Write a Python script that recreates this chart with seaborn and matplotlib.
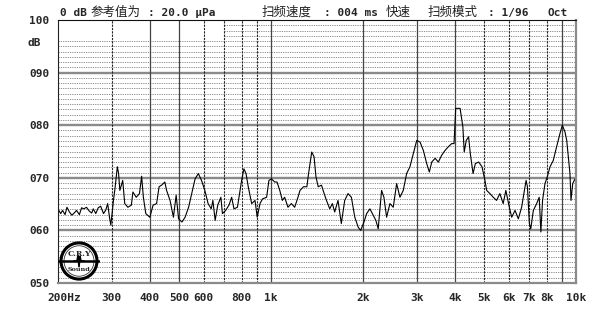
import numpy as np
import pandas as pd
import matplotlib
matplotlib.use("Agg")
import matplotlib.pyplot as plt
import matplotlib.transforms as mtrans
from matplotlib.patches import Ellipse
import seaborn as sns

# ---- data (1/96 octave sweep) ----
freq_hz = [200, 204, 207, 211, 214, 218, 222, 226, 230, 235, 239, 243, 248, 253, 258, 261,
           266, 271, 276, 282, 287, 291, 295, 298,
           304, 308, 313, 316, 319, 326, 331, 339, 348, 352, 361, 370, 376, 381, 388, 400,
           410, 421, 429, 437, 448, 454, 466, 478, 488, 497, 510, 522, 536, 549, 563, 577,
           591, 606, 621, 636, 644, 655, 668, 684, 692, 709, 727, 742, 755, 775, 800, 814,
           827, 841, 863, 885, 900, 919, 937, 966, 983, 1002, 1027, 1045, 1067, 1088, 1107,
           1135, 1164, 1194, 1224,
           1243, 1276, 1309, 1326, 1358, 1382, 1402, 1426, 1462, 1480, 1518, 1556, 1587,
           1615, 1656, 1698, 1742, 1786, 1832, 1880, 1929, 1965, 2015, 2056, 2107, 2160,
           2204, 2243, 2301, 2342, 2390, 2451, 2513, 2578, 2643, 2710, 2780, 2850, 2923,
           3000, 3076, 3154, 3235, 3300, 3361, 3446, 3533, 3623, 3715, 3809, 3906, 3976,
           4027, 4162, 4250, 4294, 4360, 4438, 4496, 4591, 4670, 4789, 4911, 5022, 5087,
           5214, 5346, 5481, 5620, 5762, 5880, 6036, 6145, 6300, 6460, 6623, 6706, 6850,
           6920, 7022, 7096, 7236, 7420, 7563, 7659, 7756, 7900, 8040, 8207, 8410, 8625,
           8845, 9007, 9190, 9310, 9540, 9615, 9740, 9910, 10000]
level_db = [64.1, 63.2, 63.8, 63.0, 64.4, 63.5, 62.9, 63.3, 63.8, 63.0, 64.3, 64.1, 64.4,
            63.7, 63.3, 64.1, 63.2, 64.3, 64.6, 63.2, 63.9, 65.1, 62.5, 61.0,
            65.7, 68.3, 72.1, 70.8, 67.6, 69.5, 65.1, 64.4, 64.8, 67.3, 66.3, 67.0, 70.3,
            66.3, 63.2, 62.5, 64.8, 65.1, 68.3, 68.6, 69.2, 67.6, 65.7, 62.5, 66.7, 62.2,
            61.6, 62.5, 64.4, 67.0, 69.8, 70.8, 69.5, 67.6, 65.1, 64.1, 65.7, 61.9, 64.8,
            66.3, 63.2, 63.8, 64.8, 66.3, 64.1, 64.4, 69.5, 71.7, 70.8, 68.3, 65.1, 65.7,
            62.5, 65.1, 66.0, 66.3, 69.5, 69.8, 69.2, 69.2, 67.6, 65.7, 66.3, 64.4, 65.1,
            64.4, 66.3,
            67.6, 68.3, 68.3, 70.8, 74.9, 74.0, 70.2, 68.3, 68.6, 67.6, 65.7, 64.1, 65.1,
            63.5, 65.7, 61.3, 65.7, 67.0, 66.3, 62.5, 60.6, 60.0, 61.6, 63.2, 64.1, 62.9,
            61.9, 60.3, 67.6, 66.3, 62.5, 65.1, 64.4, 68.9, 66.3, 67.6, 70.8, 72.1, 74.6,
            77.1, 76.8, 75.2, 72.7, 71.1, 73.0, 73.7, 73.0, 74.3, 75.2, 75.9, 76.5, 76.5,
            83.2, 83.2, 79.7, 74.9, 77.1, 77.8, 74.6, 70.8, 72.7, 73.0, 72.1, 69.5, 67.6,
            67.0, 66.3, 65.7, 67.0, 65.1, 67.6, 64.4, 62.5, 63.8, 62.2, 64.4, 66.3, 69.5,
            68.3, 61.3, 60.3, 63.8, 65.1, 66.3, 59.7, 65.7, 68.9, 70.2, 72.1, 73.3, 75.9,
            78.4, 80.0, 78.7, 77.1, 70.8, 65.7, 68.9, 69.8, 69.5]

y_ticks = [50, 60, 70, 80, 90, 100]
y_tick_labels = ["050", "060", "070", "080", "090", "100"]
x_ticks = [200, 300, 400, 500, 600, 800, 1000, 2000, 3000, 4000, 5000, 6000, 7000, 8000, 10000]
x_tick_labels = ["200Hz", "300", "400", "500", "600", "800", "1k", "2k", "3k", "4k",
                 "5k", "6k", "7k", "8k", "10k"]
grid_solid = [400, 500, 1000, 2000, 3000, 4000, 9000]
grid_dashed = [300, 600, 700, 800, 900, 5000, 6000, 7000, 8000]
major_db = [60, 70, 80, 90]

# (text, x pixel, kind)
header = [("0 dB", 60, "mono"), ("参考值为", 91, "cjk"), (": 20.0 μPa", 148, "mono"),
          ("扫频速度", 262, "cjk"), (": 004 ms", 324, "mono"), ("快速", 386, "cjk"),
          ("扫频模式", 428, "cjk"), (": 1/96", 488, "mono"), ("Oct", 547, "mono")]

# ---- drawing ----
sns.set_style("white")
plt.rcParams["font.family"] = ["DejaVu Sans Mono", "Noto Sans CJK SC"]

W, H = 606, 314
fig = plt.figure(figsize=(W / 100, H / 100), dpi=100)
fig.patch.set_facecolor("white")
x0, x1, yt, yb = 58, 576.2, 20, 283
ax = fig.add_axes([x0 / W, 1 - yb / H, (x1 - x0) / W, (yb - yt) / H])

df = pd.DataFrame({"freq": freq_hz, "db": level_db})

ax.set_xscale("log")
ax.set_xlim(200, 10000)
ax.set_ylim(50, 100)

# minor 1 dB dotted lines (top-left box left blank as in the reference)
for v in range(51, 100):
    if v in major_db:
        continue
    xmin = 700 if v >= 97 else 200
    ax.hlines(v, xmin, 10000, colors="#707070", lw=0.55,
              linestyles=(0, (1.6, 1.4)), zorder=1)
ax.hlines(major_db, 200, 10000, colors="#8a8a8a", lw=1.7, zorder=2)
ax.vlines(grid_dashed, 50, 100, colors="#222222", lw=0.8,
          linestyles=(0, (2.0, 1.0)), zorder=3)
ax.vlines(grid_solid, 50, 100, colors="#444444", lw=0.9, zorder=3)

sns.lineplot(data=df, x="freq", y="db", ax=ax, color="black", lw=0.8,
             estimator=None, sort=False, zorder=5)

ax.set_xlabel("")
ax.set_ylabel("")
ax.xaxis.set_minor_locator(matplotlib.ticker.NullLocator())
ax.set_xticks(x_ticks)
ax.set_xticklabels(x_tick_labels)
ax.set_yticks(y_ticks)
ax.set_yticklabels(y_tick_labels)
ax.tick_params(length=0, labelsize=8)
ax.tick_params(axis="x", pad=7)
ax.tick_params(axis="y", pad=6)
for lab in ax.get_xticklabels() + ax.get_yticklabels():
    lab.set_fontweight("bold")
    lab.set_family("DejaVu Sans Mono")
first = ax.get_xticklabels()[0]
first.set_transform(first.get_transform() +
                    mtrans.ScaledTranslation(6 / 100, 0, fig.dpi_scale_trans))

for side, sp in ax.spines.items():
    sp.set_visible(True)
    sp.set_zorder(6)
ax.spines["top"].set_color("#111111")
ax.spines["top"].set_linewidth(0.8)
ax.spines["left"].set_color("#222222")
ax.spines["left"].set_linewidth(0.8)
ax.spines["left"].set_linestyle((0, (2.0, 1.0)))
ax.spines["right"].set_color("#8a8a8a")
ax.spines["right"].set_linewidth(1.6)
ax.spines["bottom"].set_color("#8a8a8a")
ax.spines["bottom"].set_linewidth(1.6)

fig.text(27 / W, 1 - 43 / H, "dB", ha="left", va="center", fontsize=8,
         fontweight="bold", family="DejaVu Sans Mono")

for txt, px, kind in header:
    if kind == "mono":
        fig.text(px / W, 1 - 13 / H, txt, ha="left", va="center", fontsize=8,
                 fontweight="bold", family=["DejaVu Sans Mono", "DejaVu Sans"])
    else:
        fig.text(px / W, 1 - 12 / H, txt, ha="left", va="center", fontsize=9,
                 family=["Noto Sans CJK SC", "DejaVu Sans"], color="#222222")

# logo
lax = fig.add_axes([58 / W, 1 - 281 / H, 42 / W, 40 / H])
lax.set_xlim(-1.05, 1.05)
lax.set_ylim(-1.05, 1.05)
lax.axis("off")
lax.add_patch(Ellipse((0, 0), 1.8, 1.9, fc="white", ec="black", lw=2.2))
lax.add_patch(Ellipse((0, 0), 1.5, 1.6, fc="none", ec="#333333", lw=0.6))
lax.text(0, 0.38, "C.R.Y", ha="center", va="center", fontsize=5.6,
         fontweight="bold", family="DejaVu Serif")
lax.text(0, -0.45, "Sound", ha="center", va="center", fontsize=4.6,
         fontweight="bold", family="DejaVu Serif")
lax.plot([-0.98, 0.98], [0.0, 0.0], color="black", lw=1.8)
lax.plot([-0.25, -0.1, -0.05, 0.0, 0.05, 0.1, 0.25],
         [0.0, 0.0, 0.3, -0.3, 0.25, 0.0, 0.0], color="black", lw=1.2)

fig.savefig("out.png", dpi=100, facecolor="white")
